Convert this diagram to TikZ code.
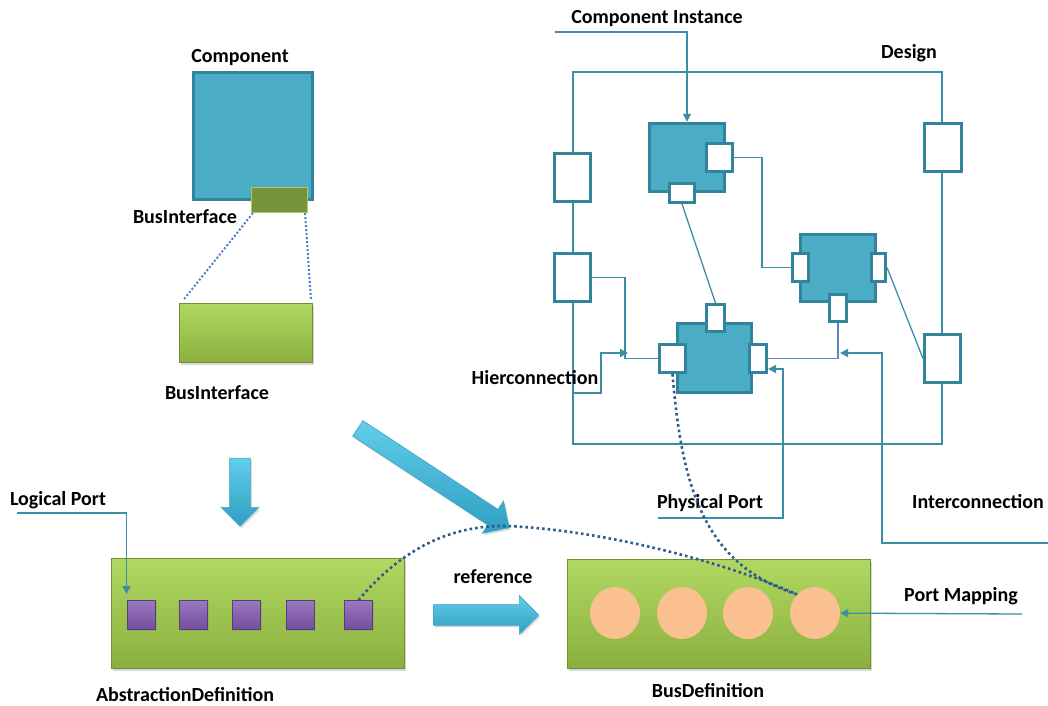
\documentclass[tikz,border=0pt]{standalone}
\usepackage{fontspec}
\setmainfont{Carlito}
\usetikzlibrary{shapes.arrows,shapes.geometric,arrows.meta,shadows}

\definecolor{tealfill}{HTML}{4BACC6}
\definecolor{tealedge}{HTML}{31849B}
\definecolor{wirec}{HTML}{3B8EA5}
\definecolor{wireblue}{HTML}{5B84C4}
\definecolor{dotblue}{HTML}{2E5A8C}
\definecolor{dotlight}{HTML}{4A7EC0}
\definecolor{greentop}{HTML}{B0D862}
\definecolor{greenbot}{HTML}{8AAF3E}
\definecolor{greenedge}{HTML}{6E8F2E}
\definecolor{olive}{HTML}{77933C}
\definecolor{bilight}{HTML}{A9CC5C}
\definecolor{purptop}{HTML}{9A78C0}
\definecolor{purpbot}{HTML}{744E9C}
\definecolor{purpedge}{HTML}{583D78}
\definecolor{peach}{HTML}{FAC090}
\definecolor{arrowtop}{HTML}{62CDEA}
\definecolor{arrowbot}{HTML}{2F9EC2}
\definecolor{arrowedge}{HTML}{3AA6C8}

\begin{document}
\begin{tikzpicture}
    [x=1pt, y=-1pt,
    lbl/.style={font=\bfseries\fontsize{20}{23}\selectfont, inner sep=0pt},
    comp/.style={draw=tealedge, fill=tealfill, line width=3.5pt, inner sep=0pt},
    port/.style 2 args={draw=tealedge, fill=white, line width=3pt, inner sep=0pt,
        minimum width=#1, minimum height=#2},
    frame/.style={draw=wirec, line width=1.3pt, inner sep=0pt},
    wire/.style={wirec, line width=1.3pt},
    pointer/.style={wirec, line width=1.3pt, -{Triangle[length=8pt,width=8pt]}},
    greenbox/.style={draw=greenedge, line width=0.8pt, top color=greentop, bottom color=greenbot,
        inner sep=0pt, drop shadow={opacity=0.3, shadow xshift=1.5pt, shadow yshift=-2pt}},
    lport/.style={draw=purpedge, line width=0.8pt, top color=purptop, bottom color=purpbot,
        minimum width=28pt, minimum height=29pt, inner sep=0pt,
        drop shadow={opacity=0.3, shadow xshift=1pt, shadow yshift=-1.5pt}},
    pmap/.style={ellipse, fill=peach, minimum width=50pt, minimum height=52pt, inner sep=0pt},
    bigarrow/.style={single arrow, draw=arrowedge, line width=0.6pt, top color=arrowtop,
        bottom color=arrowbot, inner xsep=0pt, inner ysep=10pt, single arrow head extend=9pt,
        drop shadow={opacity=0.3, shadow xshift=1.5pt, shadow yshift=-2pt}},
    mapping/.style={dotblue, line width=2.6pt, dash pattern=on 2.6pt off 3pt},
    zoomline/.style={dotlight, line width=2pt, dash pattern=on 2pt off 2pt}]

    \useasboundingbox (0,0) rectangle (1048,705);

    % component and its bus interface
    \node[lbl] (complbl) at (240,58) {Component};
    \node[comp, line width=3pt, minimum width=119pt, minimum height=127pt] (comp) at (253,136) {};
    \node[draw=bilight, fill=olive, line width=1.2pt, minimum width=56pt, minimum height=25pt] (bismall) at (279.5,200) {};
    \node[lbl] (bismalllbl) at (185,217) {BusInterface};
    \node[greenbox, minimum width=133pt, minimum height=59pt] (bibig) at (246,333) {};
    \node[lbl] (biglbl) at (217,393) {BusInterface};
    \draw[zoomline] ([xshift=2pt]bismall.south west) -- ([xshift=5pt,yshift=4pt]bibig.north west);
    \draw[zoomline] ([xshift=-3pt]bismall.south east) -- ([xshift=-2pt,yshift=4pt]bibig.north east);

    \node[bigarrow, minimum height=68pt, single arrow head extend=8.5pt, rotate=-90] (downarr) at (240,487) {};

    % abstraction definition
    \node[lbl] (lplbl) at (58,500) {Logical Port};
    \node[greenbox, minimum width=293pt, minimum height=110pt] (absdef) at (258,613.5) {};
    \foreach \i/\x in {1/141.5,2/193.5,3/246.5,4/300,5/358.5}
        \node[lport] (sq\i) at (\x,615) {};
    \node[lbl] (absdeflbl) at (185,695) {AbstractionDefinition};
    \coordinate (lp0) at (17,513);
    \draw[pointer] (lp0) -| ([xshift=-15pt,yshift=6pt]sq1.north);

    % reference arrows
    \node[bigarrow, minimum height=105pt] (refarr) at (481,615) {};
    \node[lbl] (reflbl) at (493,577) {reference};
    \node[bigarrow, minimum height=181pt, inner ysep=9pt, single arrow head extend=10pt, rotate=-33.3] (diagarr) at (429.5,475.5) {};
    \coordinate (peak) at (507,526);

    % bus definition
    \node[greenbox, minimum width=303pt, minimum height=109pt] (busdef) at (719,614) {};
    \foreach \i/\x in {1/615,2/682,3/748,4/815}
        \node[pmap] (c\i) at (\x,613) {};
    \node[lbl] (busdeflbl) at (708,691) {BusDefinition};
    \node[lbl] (pmlbl) at (961,596) {Port Mapping};
    \coordinate (pm0) at (1022,614);
    \draw[pointer] (pm0) -- (c4);

    % design
    \node[frame, minimum width=369pt, minimum height=372pt] (design) at (757.5,258) {};
    \node[lbl] (designlbl) at (909,53) {Design};
    \node[lbl] (cilbl) at (657,19) {Component Instance};
    \node[lbl] (hclbl) at (535,378) {Hierconnection};
    \node[lbl] (pplbl) at (710,503) {Physical Port};
    \node[lbl] (iclbl) at (978,502) {Interconnection};

    % design ports
    \node[port={36pt}{48pt}] (dl1) at (572.5,177.5) {};
    \node[port={36pt}{48pt}] (dl2) at (572.5,277.5) {};
    \node[port={37pt}{48pt}] (dr1) at (943,147.5) {};
    \node[port={36pt}{48pt}] (dr2) at (942.5,358.5) {};

    % component instances
    \node[comp, minimum width=75pt, minimum height=68pt] (inst1) at (687,157.5) {};
    \node[port={26pt}{28pt}] (i1r) at (719.5,157.5) {};
    \node[port={25pt}{19pt}] (i1b) at (682,193) {};

    \node[comp, minimum width=75pt, minimum height=67pt] (inst2) at (838,268) {};
    \node[port={16pt}{28pt}] (i2l) at (800.5,267.5) {};
    \node[port={14pt}{28pt}] (i2r) at (878.5,267.5) {};
    \node[port={17pt}{27pt}] (i2b) at (838,308) {};

    \node[comp, minimum width=74pt, minimum height=69pt] (inst3) at (714.5,358) {};
    \node[port={18pt}{27pt}] (i3t) at (715.5,318) {};
    \node[port={26pt}{28pt}] (i3l) at (672.5,358.5) {};
    \node[port={17pt}{28pt}] (i3r) at (758,358.5) {};

    % connections
    \draw[wire] (i1r.east) -- ++(28,0) |- (i2l.west);
    \draw[wire] (i1b.south) -- (i3t.north);
    \draw[wire] (i2r.east) -- (dr2.west);
    \draw[wire, wireblue] (i2b.south) |- (i3r.east);
    \draw[wire] (dl2.east) -- ++(33,0) |- (i3l.west);

    % pointers for the labels
    \coordinate (ci0) at (555,32);
    \coordinate (hc0) at (573,393);
    \coordinate (hc1) at (628,353);
    \coordinate (pp0) at (658,518);
    \coordinate (ic0) at (1048,543);
    \coordinate (ic1) at (840,353);
    \draw[pointer] (ci0) -| (inst1.north);
    \draw[pointer] (hc0) -- ++(28,0) |- (hc1);
    \draw[pointer] (pp0) -- ++(125,0) |- ([yshift=-10.5pt]i3r.east);
    \draw[pointer] (ic0) -- ++(-166,0) |- (ic1);

    % port mappings
    \draw[mapping] (sq5.north) .. controls (405,545) and (455,525) .. (peak)
        .. controls (600,530) and (720,560) .. (c4.north west);
    \draw[mapping] (i3l.south) .. controls (682,490) and (705,565) .. (c4.north west);

\end{tikzpicture}
\end{document}
